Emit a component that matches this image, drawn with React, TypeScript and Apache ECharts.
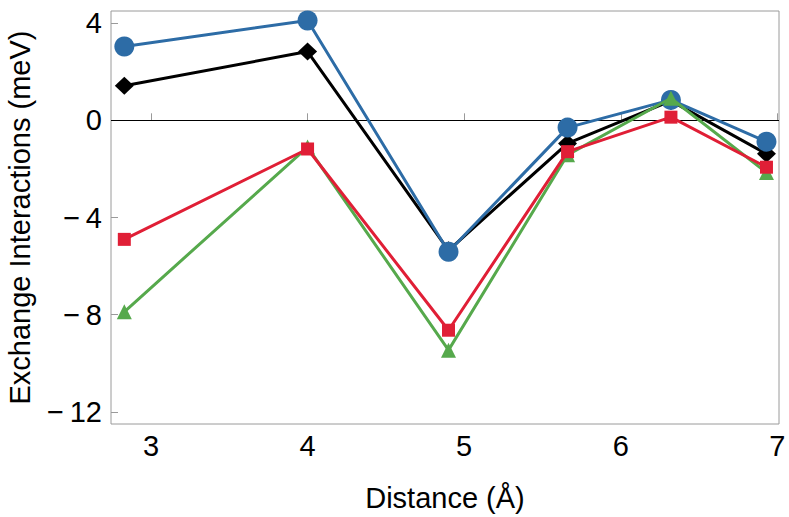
import React, { useEffect, useRef } from "react";
import * as echarts from "echarts";

const distances = [2.83, 4.0, 4.9, 5.66, 6.32, 6.93];
const seriesBlack = [1.42, 2.83, -5.35, -0.95, 0.8, -1.38];
const seriesBlue = [3.04, 4.11, -5.41, -0.3, 0.84, -0.88];
const seriesGreen = [-7.88, -1.1, -9.46, -1.42, 0.91, -2.15];
const seriesRed = [-4.9, -1.18, -8.64, -1.29, 0.13, -1.93];
const xTicks = [3, 4, 5, 6, 7];
const yTicks = [-12, -8, -4, 0, 4];

const pair = (ys: number[]) => distances.map((x, i) => [x, ys[i]]);

export default function App() {
  const ref = useRef<HTMLDivElement>(null);
  useEffect(() => {
    if (!ref.current) return;
    const chart = echarts.init(ref.current, undefined, { renderer: "svg" });
    const font = "'Liberation Sans', Arial, Helvetica, sans-serif";
    const gray = "#9a9a9a";
    const mk = (name: string, ys: number[], color: string, symbol: string, size: any, z: number) => ({
      name,
      type: "line",
      data: pair(ys),
      symbol,
      symbolSize: size,
      showAllSymbol: true,
      z,
      lineStyle: { color, width: 3 },
      itemStyle: { color, opacity: 1 },
    });
    chart.setOption({
      animation: false,
      backgroundColor: "#ffffff",
      grid: {
        left: 111,
        right: 10,
        top: 11,
        bottom: 93,
        containLabel: false,
        outerBoundsMode: "none",
        show: true,
        borderColor: gray,
        borderWidth: 1,
      },
      xAxis: {
        type: "value",
        min: 2.745,
        max: 7.01,
        name: "Distance (Å)",
        nameLocation: "middle",
        nameGap: 59,
        nameTextStyle: { fontFamily: font, fontSize: 29, color: "#000" },
        axisLine: { show: false },
        splitLine: { show: false },
        axisTick: {
          show: true,
          inside: true,
          length: 7,
          customValues: xTicks,
          lineStyle: { color: gray, width: 1 },
        },
        axisLabel: {
          customValues: xTicks,
          fontFamily: font,
          fontSize: 29,
          color: "#000",
          margin: 7,
        },
      },
      yAxis: {
        type: "value",
        min: -12.5,
        max: 4.5,
        name: "Exchange Interactions (meV)",
        nameLocation: "middle",
        nameGap: 77,
        nameTextStyle: { fontFamily: font, fontSize: 29, color: "#000" },
        axisLine: { show: false },
        splitLine: { show: false },
        axisTick: {
          show: true,
          inside: true,
          length: 7,
          customValues: yTicks,
          lineStyle: { color: gray, width: 1 },
        },
        axisLabel: {
          customValues: yTicks,
          fontFamily: font,
          fontSize: 29,
          color: "#000",
          margin: 9,
          formatter: (v: number) => (v < 0 ? "\u2212\u2009" + Math.abs(v) : String(v)),
        },
      },
      series: [
        {
          ...mk("J black", seriesBlack, "#000000", "diamond", [19, 18], 2),
          markLine: {
            silent: true,
            symbol: "none",
            label: { show: false },
            lineStyle: { color: "#000", width: 1, type: "solid" },
            data: [{ yAxis: 0 }],
            z: 1,
          },
        },
        mk("J blue", seriesBlue, "#2d6ca6", "circle", 20, 3),
        mk("J green", seriesGreen, "#56a94c", "triangle", 15, 4),
        mk("J red", seriesRed, "#e01f36", "rect", 13, 5),
      ],
    });
    return () => chart.dispose();
  }, []);
  return <div ref={ref} style={{ width: 789, height: 517, position: "absolute", left: 0, top: 0 }} />;
}
